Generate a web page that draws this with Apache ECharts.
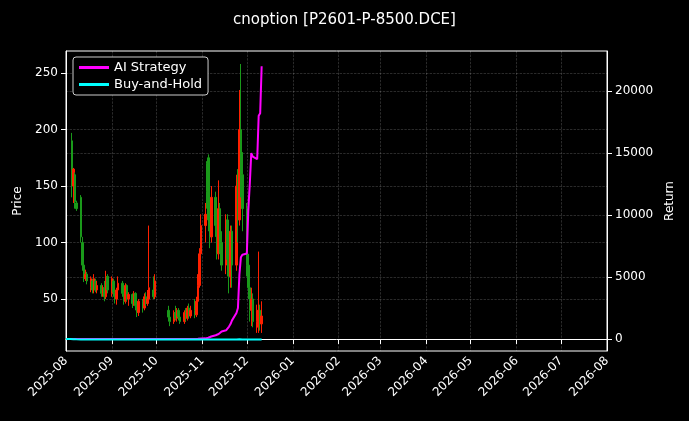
<!DOCTYPE html>
<html>
<head>
<meta charset="utf-8">
<script src="https://cdn.jsdelivr.net/npm/echarts@6/dist/echarts.min.js"></script>
<style>html,body{margin:0;background:#000}#main{width:689px;height:421px}</style>
</head>
<body>
<div id="main"></div>
<script>
// 交易日 [open, close, low, high]
var augK = ['-','-',[190,150,140,197],[150,165,135,166],[160,136,130,162],[135,130,128,137],
  [140,105,100,142],[100,80,75,105],[80,68,65,82],[68,72,66,76],[72,66,63,74],
  [60,68,56,70],[66,58,55,68],[58,68,55,72],[66,58,56,68],[58,62,55,66],
  [62,55,52,64],[55,60,52,62],[60,52,48,66],[52,70,50,75],[70,58,55,72]];
var sepK = [[55,68,52,70],[66,56,52,68],[56,50,46,58],[50,58,45,60],[58,64,55,70],
  [64,55,52,66],[55,48,45,56],[48,62,46,64],[62,50,48,63],[50,54,44,56],
  [54,46,42,55],[46,55,44,57],[55,44,40,56],[44,38,34,46],[38,48,35,50],
  [48,42,38,50],[42,52,40,55],[52,46,44,56],[46,50,44,58],[50,60,48,115],
  [58,52,50,70],[52,66,50,72]];
var octK = [[40,34,30,44],[34,30,26,38],
  [30,38,28,40],[38,33,31,44],[33,40,30,42],[40,34,31,42],[34,30,28,38],
  [30,38,28,40],[38,33,30,42],[33,42,31,44],[42,35,33,46],[35,40,33,44],
  [40,36,33,50],[36,48,34,52],[48,62,42,72],[62,90,60,95],[90,115,85,125]];
var novK = [[115,125,100,135],[170,145,130,172],[175,120,110,178],[120,105,95,130],[105,140,100,150],
  [140,115,105,145],[115,90,85,120],[90,130,85,155],[130,100,90,135],[100,80,75,110],
  [80,120,72,125],[120,85,70,125],[85,70,55,90],[70,110,60,115],[110,80,60,115],
  [80,150,75,160],[150,120,100,165],[120,200,115,235],[200,160,140,258],[160,130,110,180]];
var decK = [[130,80,70,135],[80,60,50,90],[60,40,30,65],[40,50,26,60],[50,30,25,55],
  [30,40,20,45],[25,40,20,92],[40,28,22,45],[28,35,20,48]];

// 收益
var aiAug = [0,0,0,0,0,0,0,0,0,0,0,0,0,0,0,0,0,0,0,0,0];
var aiSep = [0,0,0,0,0,0,0,0,0,0,0,0,0,0,0,0,0,0,0,0,0,0];
var aiOct = [0,0,0,0,0,0,0,0,0,0,0,0,0,0,10,20,30];
var aiNov = [50,80,100,150,200,300,350,400,500,600,700,850,1000,1200,1500,2100,2500,5200,6600,6800];
var aiDec = [6900,10400,12500,15000,14700,14500,18000,18200,22000];
var bhAug = [0,-10,-15,-20,-25,-30,-35,-40,-42,-40,-42,-44,-45,-44,-46,-45,-46,-45,-44,-45,-46];
var bhSep = [-45,-46,-47,-46,-45,-46,-47,-46,-47,-47,-48,-47,-48,-49,-48,-49,-48,-48,-48,-47,-48,-46];
var bhOct = [-50,-51,-50,-51,-50,-51,-52,-50,-51,-50,-51,-50,-51,-50,-48,-46,-44];
var bhNov = [-42,-40,-42,-44,-40,-42,-45,-40,-44,-46,-42,-45,-47,-43,-46,-38,-42,-32,-36,-40];
var bhDec = [-45,-47,-50,-49,-51,-50,-50,-52,-51];

var holidays = ['2025-10-01','2025-10-02','2025-10-03','2025-10-06','2025-10-07','2025-10-08'];
var dates = [];
for (var t = Date.UTC(2025,7,1); t <= Date.UTC(2025,11,11); t += 86400000) {
  var d = new Date(t), wd = d.getUTCDay(), s = d.toISOString().slice(0,10);
  if (wd == 0 || wd == 6 || holidays.indexOf(s) >= 0) continue;
  dates.push(t);
}
var kAll = augK.concat(sepK, octK, novK, decK);
var aiAll = aiAug.concat(aiSep, aiOct, aiNov, aiDec);
var bhAll = bhAug.concat(bhSep, bhOct, bhNov, bhDec);
var kData = [], aiData = [], bhData = [];
for (var i = 0; i < dates.length; i++) {
  if (kAll[i] != '-') kData.push([dates[i]].concat(kAll[i]));
  aiData.push([dates[i], aiAll[i]]);
  bhData.push([dates[i], bhAll[i]]);
}
var monthTicks = [];
for (var m = 0; m <= 12; m++) monthTicks.push(Date.UTC(2025, 7 + m, 1));
var priceTicks = [50,100,150,200,250];
var returnTicks = [0,5000,10000,15000,20000];

var chart = echarts.init(document.getElementById('main'));
var grey = 'rgba(255,255,255,0.28)';
var font = 'DejaVu Sans';
chart.setOption({
  backgroundColor: '#000',
  animation: false,
  title: { text: 'cnoption [P2601-P-8500.DCE]', left: 'center', top: 8,
    textStyle: { color: '#fff', fontSize: 15, fontWeight: 'normal', fontFamily: font } },
  legend: { left: 73, top: 57, orient: 'vertical', backgroundColor: '#000', borderColor: '#ccc', borderWidth: 1,
    borderRadius: 3, padding: [4,6], itemGap: 4, itemWidth: 30, itemHeight: 3,
    textStyle: { color: '#fff', fontSize: 13, fontFamily: font },
    data: [{ name: 'AI Strategy', icon: 'rect' }, { name: 'Buy-and-Hold', icon: 'rect' }] },
  grid: { left: 66, right: 82, top: 51, bottom: 70, show: true, borderColor: '#fff', borderWidth: 1 },
  xAxis: { type: 'value', min: monthTicks[0], max: monthTicks[12],
    axisLine: { lineStyle: { color: '#fff' } },
    axisTick: { customValues: monthTicks, lineStyle: { color: '#fff' } },
    splitLine: { show: true, lineStyle: { color: grey, type: 'dashed', width: 0.6 } },
    axisLabel: { customValues: monthTicks, color: '#fff', rotate: 45, fontSize: 12, fontFamily: font,
      formatter: function (v) { var d = new Date(v); return d.getUTCFullYear() + '-' + ('0' + (d.getUTCMonth() + 1)).slice(-2); } } },
  yAxis: [
    { type: 'value', min: 4, max: 269.5, name: 'Price', nameLocation: 'middle', nameGap: 42,
      nameTextStyle: { color: '#fff', fontSize: 12, fontFamily: font },
      axisLine: { show: true, lineStyle: { color: '#fff' } },
      axisTick: { show: true, customValues: priceTicks, lineStyle: { color: '#fff' } },
      splitLine: { show: true, lineStyle: { color: grey, type: 'dashed', width: 0.6 } },
      axisLabel: { customValues: priceTicks, color: '#fff', fontSize: 12, fontFamily: font } },
    { type: 'value', min: -970, max: 23230, name: 'Return', nameLocation: 'middle', nameGap: 56,
      nameTextStyle: { color: '#fff', fontSize: 12, fontFamily: font },
      axisLine: { show: true, lineStyle: { color: '#fff' } },
      axisTick: { show: true, customValues: returnTicks, lineStyle: { color: '#fff' } },
      splitLine: { show: true, lineStyle: { color: grey, type: 'dashed', width: 0.6 } },
      axisLabel: { customValues: returnTicks, color: '#fff', fontSize: 12, fontFamily: font,
        formatter: function (v) { return String(v); } } }
  ],
  series: [
    { type: 'candlestick', data: kData, barMaxWidth: 2,
      itemStyle: { color: '#ff2000', color0: '#1a9a1a', borderColor: '#ff2000', borderColor0: '#1a9a1a', borderWidth: 1 } },
    { name: 'AI Strategy', type: 'line', yAxisIndex: 1, data: aiData, showSymbol: false, z: 3,
      lineStyle: { color: '#ff00ff', width: 2 }, itemStyle: { color: '#ff00ff' } },
    { name: 'Buy-and-Hold', type: 'line', yAxisIndex: 1, data: bhData, showSymbol: false, z: 4,
      lineStyle: { color: '#00ffff', width: 2 }, itemStyle: { color: '#00ffff' } }
  ]
});
</script>
</body>
</html>
